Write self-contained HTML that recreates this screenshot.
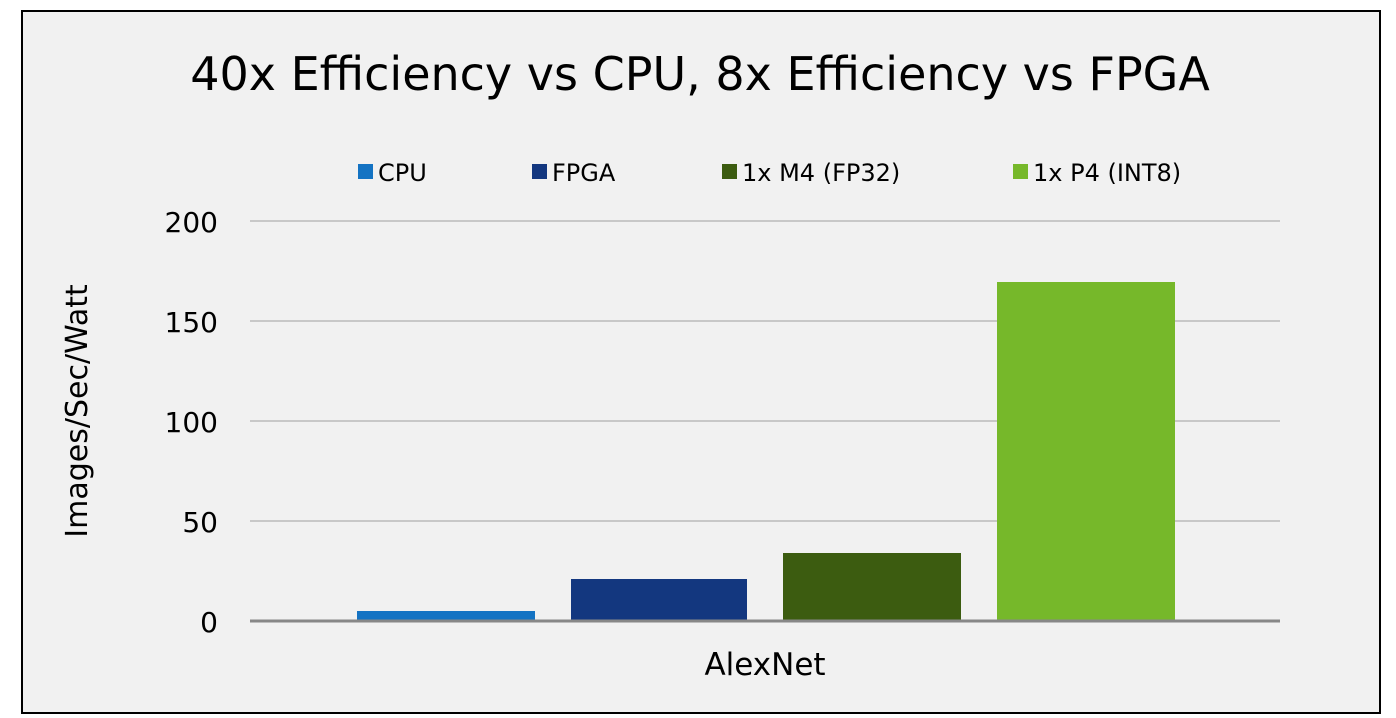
<!DOCTYPE html>
<html><head><style>
body{margin:0;width:1396px;height:718px;background:#fff;position:relative;overflow:hidden;font-family:"DejaVu Sans","Liberation Sans",sans-serif;color:#000}
.a{position:absolute}
</style></head><body>
<div class="a" style="left:21px;top:10px;width:1356px;height:700px;border:2px solid #000;background:#f1f1f1"></div>
<div class="a" style="left:20px;width:1360px;top:47px;text-align:center;font-size:46px;">40x Efficiency vs CPU, 8x Efficiency vs FPGA</div>
<svg class="a" style="left:0;top:0" width="1396" height="718">
<g stroke="#c8c8c8" stroke-width="2">
<line x1="250" x2="1280" y1="221" y2="221"/><line x1="250" x2="1280" y1="321" y2="321"/>
<line x1="250" x2="1280" y1="421" y2="421"/><line x1="250" x2="1280" y1="521" y2="521"/>
</g>
<rect x="357" y="611" width="178" height="10" fill="#1473c3"/>
<rect x="571" y="579" width="176" height="42" fill="#13377f"/>
<rect x="783" y="553" width="178" height="68" fill="#3c5c10"/>
<rect x="997" y="282" width="178" height="339" fill="#76b82a"/>
<line x1="250" x2="1280" y1="621" y2="621" stroke="#888" stroke-width="3"/>
<rect x="358" y="164" width="15" height="15" fill="#1473c3"/>
<rect x="532" y="164" width="15" height="15" fill="#13377f"/>
<rect x="722" y="164" width="15" height="15" fill="#3c5c10"/>
<rect x="1013" y="164" width="15" height="15" fill="#76b82a"/>
<g font-family="DejaVu Sans, Liberation Sans, sans-serif" font-size="24">
<text x="378" y="181">CPU</text><text x="552" y="181">FPGA</text>
<text x="742" y="181">1x M4 (FP32)</text><text x="1033" y="181">1x P4 (INT8)</text>
</g>
<g font-family="DejaVu Sans, Liberation Sans, sans-serif" font-size="28" text-anchor="end">
<text x="218" y="232">200</text><text x="218" y="332">150</text><text x="218" y="432">100</text>
<text x="218" y="532">50</text><text x="218" y="632">0</text>
</g>
<text x="765" y="675" font-family="DejaVu Sans, Liberation Sans, sans-serif" font-size="31" text-anchor="middle">AlexNet</text>
<text transform="translate(87,411) rotate(-90)" font-family="DejaVu Sans, Liberation Sans, sans-serif" font-size="30" text-anchor="middle">Images/Sec/Watt</text>
</svg>
</body></html>
